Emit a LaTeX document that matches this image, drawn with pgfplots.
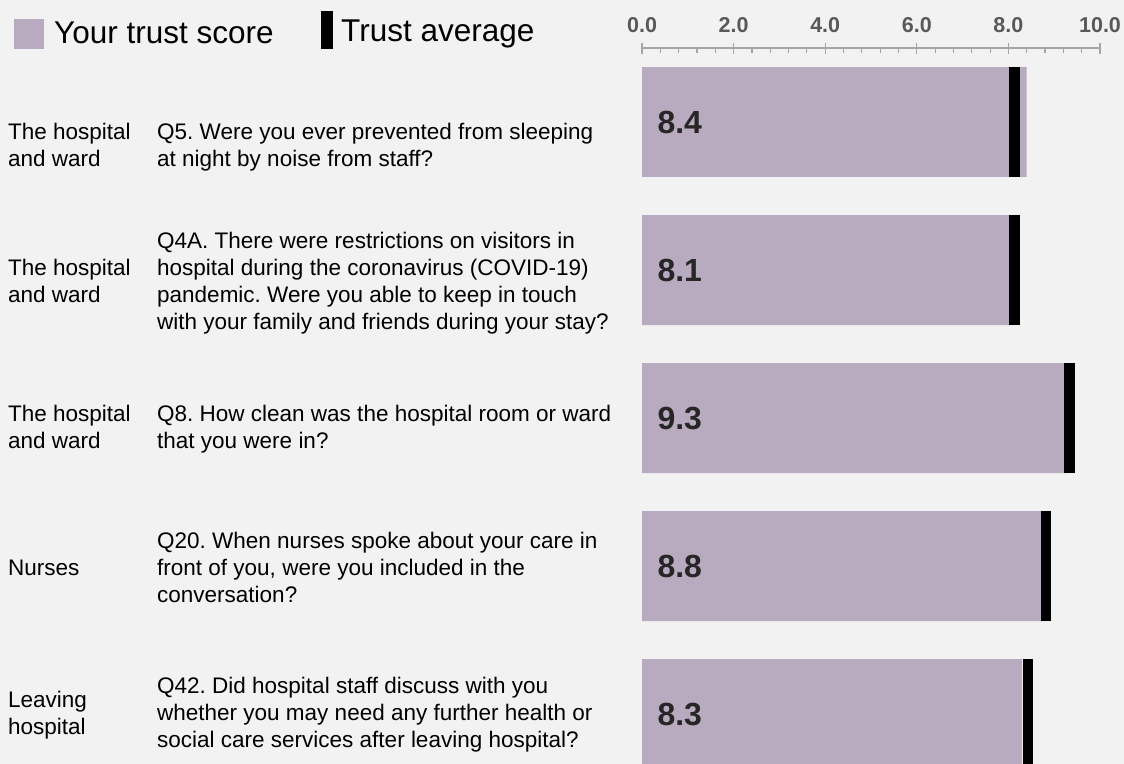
\documentclass[border=0pt]{standalone}
\usepackage{pgfplots}
\pgfplotsset{compat=1.18}
\usepackage{fontspec}
\setmainfont{Liberation Sans}
\definecolor{bg}{HTML}{F2F2F2}
\definecolor{barc}{HTML}{B8AABF}
\definecolor{tickc}{HTML}{595959}
\definecolor{axc}{HTML}{A6A6A6}
\definecolor{valc}{HTML}{262626}
\pgfdeclareplotmark{avgbar}{\pgfpathrectangle{\pgfpoint{-5.3bp}{-55bp}}{\pgfpoint{10.6bp}{110bp}}\pgfusepathqfill}
\newcommand{\txt}[3]{\node[anchor=base west, inner sep=0pt, font=\fontsize{22.5bp}{27bp}\selectfont, text=black] at (#1,#2) {#3};}
\frenchspacing
\begin{document}
\frenchspacing
\begin{tikzpicture}[x=1bp,y=-1bp]
\fill[bg] (0,0) rectangle (1124,764);
\begin{axis}[
  at={(642bp,-48bp)}, anchor=north west,
  scale only axis, width=458bp, height=716bp,
  xmin=0, xmax=10, ymin=-0.5, ymax=4.3378, y dir=reverse,
  axis x line=top, axis y line=none,
  axis line style={-, axc, line width=1.2bp},
  xtick={0,2,...,10}, minor x tick num=4,
  tick align=center,
  major tick length=11bp, minor tick length=5bp,
  major tick style={axc, line width=1.2bp},
  minor tick style={axc, line width=1.2bp, yshift=-2.5bp},
  xticklabel style={anchor=base, yshift=10bp, font=\fontsize{21.5bp}{24bp}\selectfont\bfseries, text=tickc},
  /pgf/number format/.cd, fixed, fixed zerofill, precision=1, assume math mode=true,
]
\addplot[xbar, bar width=0.743, fill=barc, draw=none] coordinates {(8.4,0) (8.1,1) (9.3,2) (8.8,3) (8.3,4)};
\addplot[only marks, mark=avgbar, mark options={fill=black, draw=none}, black] coordinates {(8.13,0) (8.13,1) (9.33,2) (8.82,3) (8.43,4)};
\addplot[draw=none, mark=none, nodes near coords, point meta=explicit symbolic,
  nodes near coords style={anchor=west, xshift=12bp, font=\fontsize{32bp}{36bp}\selectfont\bfseries, text=valc}]
  coordinates {(0,0) [8.4] (0,1) [8.1] (0,2) [9.3] (0,3) [8.8] (0,4) [8.3]};
\end{axis}
% legend
\fill[barc] (13.5,19) rectangle (44,49.5);
\node[anchor=base west, inner sep=0pt, font=\fontsize{31.5bp}{36bp}\selectfont] at (54,43.3) {Your trust score};
\fill[black] (321,11) rectangle (333,49);
\node[anchor=base west, inner sep=0pt, font=\fontsize{31.5bp}{36bp}\selectfont] at (341,41.7) {Trust average};
% texts
\txt{8}{139}{The hospital}
\txt{8}{166}{and ward}
\txt{157}{139}{Q5. Were you ever prevented from sleeping}
\txt{157}{166}{at night by noise from staff?}
\txt{157}{248}{Q4A. There were restrictions on visitors in}
\txt{8}{275}{The hospital}
\txt{157}{275}{hospital during the coronavirus (COVID-19)}
\txt{8}{302}{and ward}
\txt{157}{302}{pandemic. Were you able to keep in touch}
\txt{157}{329}{with your family and friends during your stay?}
\txt{8}{421}{The hospital}
\txt{157}{421}{Q8. How clean was the hospital room or ward}
\txt{8}{448}{and ward}
\txt{157}{448}{that you were in?}
\txt{157}{548}{Q20. When nurses spoke about your care in}
\txt{8}{575}{Nurses}
\txt{157}{575}{front of you, were you included in the}
\txt{157}{602}{conversation?}
\txt{157}{693}{Q42. Did hospital staff discuss with you}
\txt{8}{707}{Leaving}
\txt{157}{720}{whether you may need any further health or}
\txt{8}{734}{hospital}
\txt{157}{747}{social care services after leaving hospital?}
\pgfresetboundingbox
\path (0,0) rectangle (1124,764);
\end{tikzpicture}
\end{document}
